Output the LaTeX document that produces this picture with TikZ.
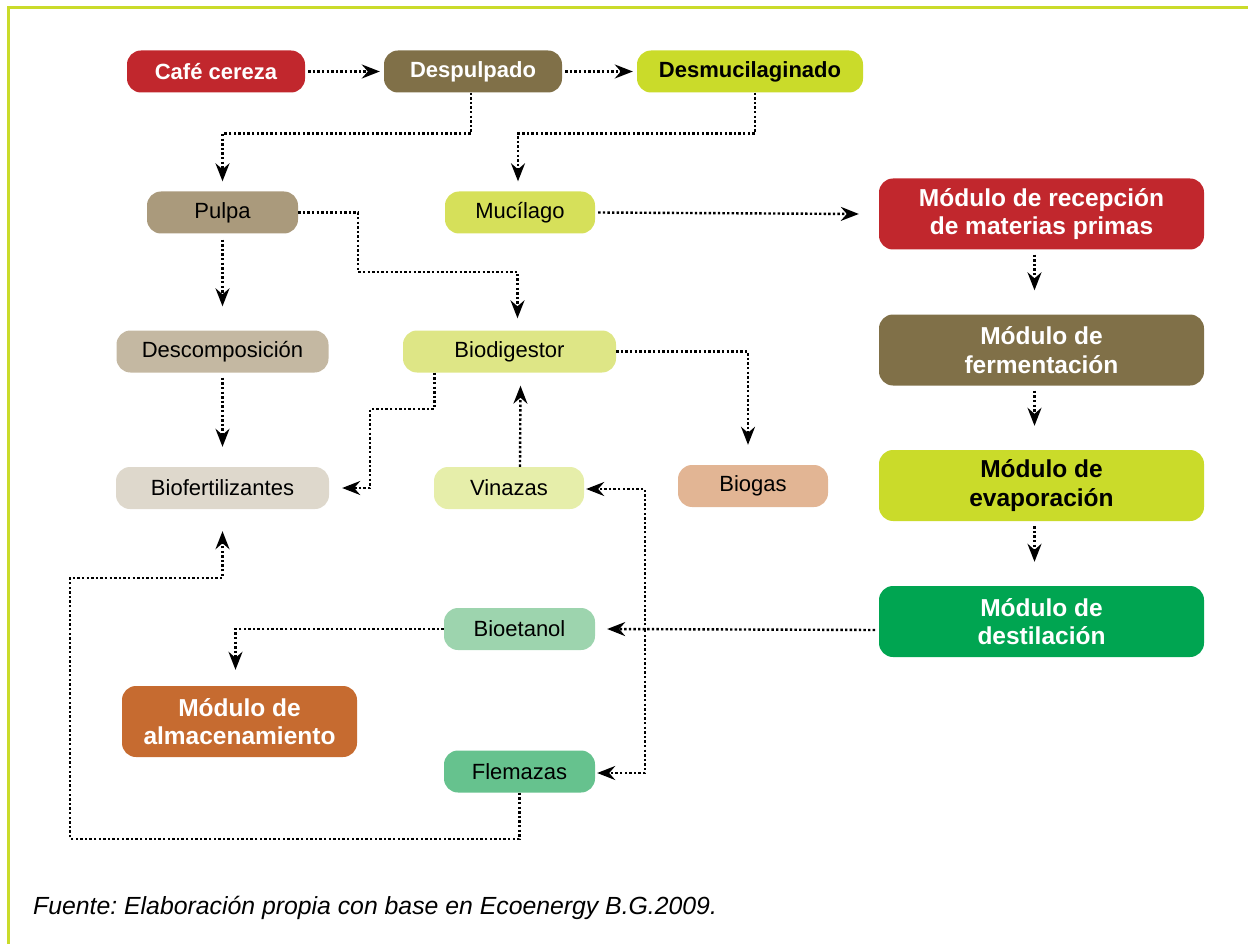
\documentclass[tikz,border=0pt]{standalone}
\usepackage{fontspec}
\setmainfont{Liberation Sans}
\usetikzlibrary{arrows.meta}
\frenchspacing
\definecolor{cred}{HTML}{C1272D}
\definecolor{cbrown}{HTML}{807048}
\definecolor{clime}{HTML}{CADB2A}
\definecolor{cpulpa}{HTML}{AA9A7C}
\definecolor{cmuci}{HTML}{D6E05A}
\definecolor{cdesc}{HTML}{C4B8A2}
\definecolor{cbiodig}{HTML}{DEE686}
\definecolor{cbiofert}{HTML}{DED8CC}
\definecolor{cvinaz}{HTML}{E6EEAA}
\definecolor{cbiogas}{HTML}{E2B594}
\definecolor{cgreen}{HTML}{00A551}
\definecolor{cbioet}{HTML}{9DD4AE}
\definecolor{corange}{HTML}{C66B30}
\definecolor{cflem}{HTML}{66C28E}
\begin{document}
\begin{tikzpicture}[x=1pt,y=-1pt,
  box/.style={rounded corners=14pt, minimum height=42pt, inner sep=0pt, text=black,
    font=\fontsize{22}{24}\selectfont},
  bbox/.style={box, font=\bfseries\fontsize{22}{24}\selectfont},
  modbox/.style={rounded corners=14pt, minimum width=325pt, minimum height=71pt, inner sep=0pt,
    align=center, font=\bfseries\fontsize{24.5}{28.3}\selectfont},
  conn/.style={line width=2.4pt, dash pattern=on 2.4pt off 2.2pt,
    -{Stealth[length=18pt,width=14pt,inset=6pt]}}]
\useasboundingbox (0,0) rectangle (1248,944);
\draw[clime, line width=3pt] (8.5,944) -- (8.5,7.5) -- (1248,7.5);

% top row
\node[bbox, fill=cred, text=white, minimum width=178pt] (cafe) at (216,71.5) {Café cereza};
\node[bbox, fill=cbrown, text=white, minimum width=178pt] (desp) at (473,71.5) {Despulpado};
\node[bbox, fill=clime, minimum width=226pt] (desmu) at (750,71.5) {Desmucilaginado};

% second row
\node[box, fill=cpulpa, minimum width=151pt] (pulpa) at (222.5,212.5) {Pulpa};
\node[box, fill=cmuci, minimum width=150pt] (muci) at (520,212.5) {Mucílago};
\node[modbox, fill=cred, text=white] (recep) at (1041.5,214) {Módulo de recepción\\de materias primas};

% third row
\node[box, fill=cdesc, minimum width=212pt] (desc) at (222.5,351.5) {Descomposición};
\node[box, fill=cbiodig, minimum width=213pt] (biodig) at (509.5,351.5) {Biodigestor};
\node[modbox, fill=cbrown, text=white] (ferm) at (1041.5,350) {Módulo de\\fermentación};

% fourth row
\node[box, fill=cbiofert, minimum width=213pt] (biofert) at (222.5,488) {Biofertilizantes};
\node[box, fill=cvinaz, minimum width=150pt] (vinazas) at (509,488) {Vinazas};
\node[box, fill=cbiogas, minimum width=150pt] (biogas) at (753,486) {Biogas};
\node[modbox, fill=clime, text=black] (evap) at (1041.5,485.5) {Módulo de\\evaporación};

% lower rows
\node[modbox, fill=cgreen, text=white] (dest) at (1041.5,621.5) {Módulo de\\destilación};
\node[box, fill=cbioet, minimum width=151pt] (bioet) at (519.5,629) {Bioetanol};
\node[modbox, fill=corange, text=white, minimum width=235pt] (almac) at (239.5,721.5) {Módulo de\\almacenamiento};
\node[box, fill=cflem, minimum width=151pt] (flem) at (519.5,771.5) {Flemazas};

\node[anchor=base west, inner sep=0pt, font=\itshape\fontsize{24.8}{28}\selectfont] (cap) at (33,914)
  {Fuente: Elaboración propia con base en Ecoenergy B.G.2009.};

% connectors
\draw[conn] ([xshift=3pt]cafe.east) -- ([xshift=-4pt]desp.west);
\draw[conn] ([xshift=3pt]desp.east) -- ([xshift=-4pt]desmu.west);
\draw[conn] ([xshift=-2pt]desp.south) -- ++(0,41) -| ([yshift=10pt]pulpa.north);
\draw[conn] ([xshift=5pt]desmu.south) -- ++(0,41) -| ([xshift=-2pt,yshift=10pt]muci.north);
\draw[conn] (pulpa.east) -| (358,272) -| ([xshift=8pt,yshift=12pt]biodig.north);
\draw[conn] ([yshift=-6pt]pulpa.south) -- ([yshift=24pt]desc.north);
\draw[conn] ([xshift=3pt]muci.east) -- ([xshift=-20pt]recep.west);
\draw[conn] ([xshift=-7pt,yshift=-5pt]recep.south) -- ([xshift=-7pt,yshift=24pt]ferm.north);
\draw[conn] ([xshift=-7pt,yshift=-5pt]ferm.south) -- ([xshift=-7pt,yshift=24pt]evap.north);
\draw[conn] ([xshift=-7pt,yshift=-5pt]evap.south) -- ([xshift=-7pt,yshift=24pt]dest.north);
\draw[conn] ([yshift=-5pt]desc.south) -- ([yshift=20pt]biofert.north);
\draw[conn] ([xshift=-75pt]biodig.south) -- ++(0,36) -| ([xshift=41pt]biofert.east) -- ([xshift=13pt]biofert.east);
\draw[conn] ([xshift=11pt]vinazas.north) -- ([xshift=11pt,yshift=-13pt]biodig.south);
\draw[conn] (biodig.east) -| ([xshift=-5pt,yshift=20pt]biogas.north);
\coordinate (dl) at (875,630);
\coordinate (jn) at (645,630);
\draw[conn] (dl) -- ([xshift=12pt]bioet.east);
\draw[conn] (jn) |- ([xshift=2pt,yshift=-1pt]vinazas.east);
\draw[conn] (jn) |- ([xshift=2pt,yshift=-1.5pt]flem.east);
\draw[conn] (bioet.west) -| ([xshift=-4pt,yshift=16pt]almac.north);
\draw[conn] (flem.south) -- ++(0,46) -| (70,578) -| ([yshift=-22pt]biofert.south);
\end{tikzpicture}
\end{document}
